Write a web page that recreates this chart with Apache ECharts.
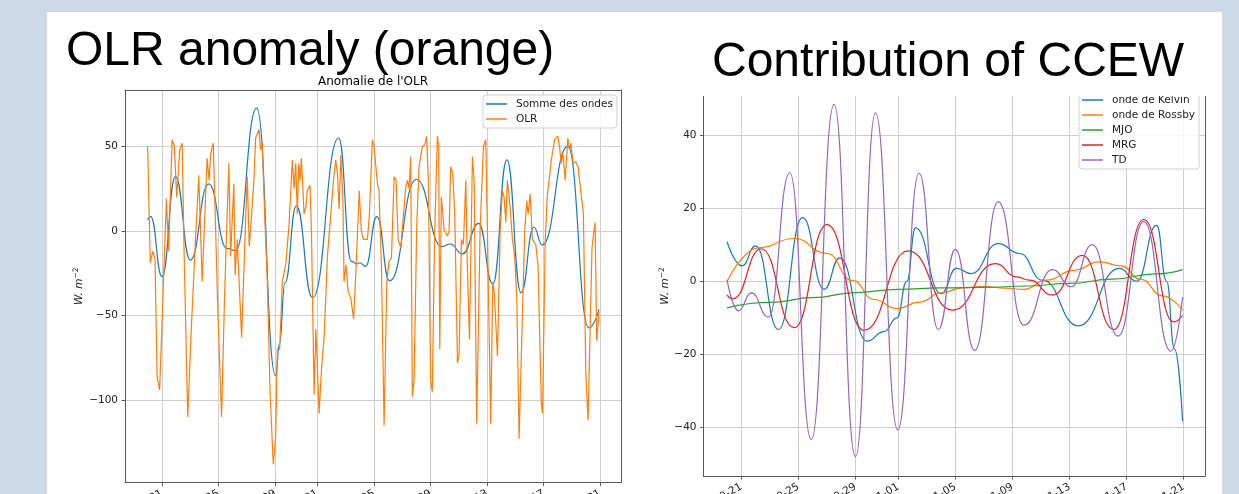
<!DOCTYPE html>
<html><head><meta charset="utf-8">
<script src="https://cdn.jsdelivr.net/npm/echarts@6/dist/echarts.min.js"></script>
<style>html,body{margin:0;padding:0;background:#cdd9e6}#c{width:1239px;height:494px}</style>
</head><body><div id="c"></div>
<script>
// ---------- data (x = day count: Oct 1 = 1, Nov 1 = 32) ----------
const tickDays = [21, 25, 29, 32, 36, 40, 44, 48, 52];
const tickLabels = ['2018-10-21','2018-10-25','2018-10-29','2018-11-01','2018-11-05','2018-11-09','2018-11-13','2018-11-17','2018-11-21'];
const olrTicks = [-100, -50, 0, 50];
const ccewTicks = [-40, -20, 0, 20, 40];

const somme = [[19.98,6.5],[20.2,8.5],[21.0,-27],[21.95,32.2],[23.0,-17.2],[24.3,27.9],[25.6,-10.3],[26.2,-11.7],[27.7,72.7],[29.04,-85.7],[29.3,-67],[29.7,-30.5],[30.5,14.8],[31.64,-39.5],[33.5,55],[34.4,-18],[34.8,-19.5],[35.0,-18.8],[35.4,-21],[36.2,8.5],[37.1,-29.6],[39.0,30.6],[40.8,-9.3],[41.4,-7.7],[42.25,-13.6],[43.4,4.5],[44.4,-31.5],[45.4,42.1],[46.4,-36.5],[47.3,2.2],[47.9,-8.3],[49.7,50],[51.2,-57.3],[51.92,-46.4]];

const olr = [[19.98,50],[20.17,-19],[20.34,-12],[20.5,-16],[20.65,-86],[20.83,-94],[21.31,19],[21.47,-12],[21.71,54],[21.87,50],[22.04,20],[22.25,48],[22.42,52],[22.58,-20],[22.82,-110],[23.06,-60],[23.35,-8],[23.6,33],[23.84,-30],[24.19,43],[24.33,30],[24.43,45],[24.62,52],[24.78,5],[24.92,-40],[25.21,-110],[25.42,-40],[25.61,10],[25.73,40],[25.85,-15],[26.08,28],[26.17,-26],[26.32,-5],[26.63,-63],[26.74,-63],[26.93,10],[27.03,32],[27.17,-9],[27.3,5],[27.5,30],[27.62,55],[27.86,60],[27.97,48],[28.09,52],[28.26,10],[28.45,-30],[28.64,-95],[28.87,-138],[29.04,-122],[29.16,-70],[29.32,-70],[29.51,-30],[29.75,-20],[29.98,3],[30.22,42],[30.34,25],[30.46,40],[30.57,10],[30.67,40],[30.77,30],[30.86,43],[31.05,10],[31.19,15],[31.28,24],[31.47,27],[31.57,0],[31.76,-97],[31.88,-58],[31.99,-80],[32.11,-108],[32.28,-82],[32.47,-62],[32.7,-15],[32.94,10],[33.13,30],[33.29,42],[33.41,34],[33.53,13],[33.65,45],[33.79,20],[33.88,-30],[34.02,-20],[34.17,-36],[34.36,-40],[34.55,-52],[34.71,-25],[34.95,24],[35.1,0],[35.25,-5],[35.53,-5],[35.67,10],[35.88,54],[36.0,50],[36.24,28],[36.35,24],[36.52,-20],[36.71,-115],[36.9,-30],[37.06,-18],[37.23,-16],[37.42,32],[37.56,30],[37.7,-5],[37.89,-10],[38.24,26],[38.36,30],[38.48,25],[38.59,44],[38.71,-98],[38.83,-88],[39.02,3],[39.18,38],[39.42,50],[39.58,51],[39.72,56],[39.84,30],[40.0,-88],[40.12,-95],[40.29,0],[40.48,56],[40.57,50],[40.65,-70],[40.76,20],[40.95,1],[41.19,-3],[41.31,0],[41.42,38],[41.57,34],[41.71,10],[41.9,-78],[42.01,-74],[42.18,-5],[42.32,-8],[42.49,30],[42.6,-21],[42.75,-64],[42.96,44],[43.08,30],[43.26,-114],[43.5,0],[43.74,50],[43.9,54],[44.02,0],[44.25,-114],[44.4,-30],[44.5,-36],[44.73,-74],[44.92,0],[45.08,24],[45.2,20],[45.32,5],[45.43,30],[45.62,15],[45.79,-5],[45.95,-15],[46.1,-40],[46.26,-123],[46.5,-48],[46.66,0],[46.8,18],[46.9,10],[47.04,22],[47.2,-5],[47.44,-8],[47.6,-20],[47.83,-102],[47.92,-108],[48.11,-5],[48.25,20],[48.54,42],[48.77,54],[49.0,56],[49.12,50],[49.24,40],[49.36,46],[49.52,30],[49.71,55],[49.83,48],[49.92,52],[50.08,40],[50.27,41],[50.43,38],[50.62,24],[50.81,10],[50.98,-84],[51.14,-112],[51.28,-60],[51.42,-10],[51.57,1],[51.64,5],[51.75,-65],[51.92,-48]];

const kelvin = [[20.0,10.8],[21.05,4.2],[22.0,9.7],[23.6,-13.2],[25.3,17.4],[26.8,-2.2],[27.9,6.4],[29.8,-16.4],[31.0,-13.8],[31.9,-10],[32.6,0],[33.2,14.6],[35.0,-3.4],[36.07,3.5],[37.1,2.1],[39.0,10.3],[40.5,7.6],[42.1,0.3],[44.6,-12.2],[47.5,3.5],[48.7,0],[50.1,15.3],[50.8,0],[51.35,-18.5],[51.92,-38.3]];
const rossby = [[20.0,0],[22.3,9.2],[24.7,11.7],[27.0,7.6],[28.8,0.2],[30.3,-5],[31.9,-7.5],[33.5,-5.7],[35.0,-3.2],[36.5,-1.8],[38.0,-1.4],[39.5,-1.9],[40.8,-2.2],[42.4,0.3],[44.3,3],[46.1,5.3],[47.6,4.2],[49.0,0.5],[50.5,-4],[51.92,-8]];
const mjo = [[20.0,-7.3],[23.0,-5.8],[26.0,-4.5],[29.0,-3.1],[32.0,-2.2],[35.0,-1.8],[38.0,-1.7],[41.0,-1.3],[44.0,-0.6],[47.0,0.6],[50.0,2.0],[51.92,3.2]];
const mrg = [[20.0,-3.8],[20.4,-4.8],[22.4,8.9],[24.7,-12.7],[27.0,15.5],[29.6,-13.4],[32.7,8.3],[35.8,-7.9],[38.8,4.8],[40.3,1.2],[41.2,0.3],[42.8,-3.8],[44.9,7.1],[47.1,-13.2],[49.2,16.9],[51.3,-11.1],[51.92,-9.3]];
const td = [[20.0,0.3],[20.8,-8.1],[21.7,-3.2],[22.9,-9.8],[24.4,29.7],[25.9,-43.3],[27.5,48.4],[29.0,-48.0],[30.4,46.1],[31.96,-40.7],[33.45,29.5],[34.8,-13.2],[36.0,8.7],[37.35,-18.9],[39.0,21.7],[40.8,-12.0],[42.8,3.2],[44.1,-1.5],[45.6,10.0],[47.4,-15.0],[49.2,16.3],[51.1,-19.1],[51.92,-4.3]];

// ---------- styling ----------
const FONT = 'DejaVu Sans';
const SPINE = '#5a5a5a';
const GRIDC = '#cfcfcf';
const TXT = '#222';
const minusFmt = v => (v < 0 ? '\u2212' + (-v) : '' + v);
const dateFmt = v => { const i = tickDays.indexOf(Math.round(v)); return i >= 0 ? tickLabels[i] : ''; };

function xMain(gi, min, max) {
  return {
    type: 'value', gridIndex: gi, min, max, position: 'bottom',
    axisLine: {show: true, onZero: false, lineStyle: {color: SPINE, width: 1}},
    axisTick: {show: true, length: 3.5, customValues: tickDays, lineStyle: {color: SPINE}},
    axisLabel: {show: true, customValues: tickDays, rotate: 30, margin: 10, fontFamily: FONT, fontSize: 10.5, color: TXT, formatter: dateFmt},
    splitLine: {show: true, lineStyle: {color: GRIDC, width: 1}}
  };
}
function yMain(gi, min, max, ticks, gap) {
  return {
    type: 'value', gridIndex: gi, min, max, position: 'left',
    axisLine: {show: true, onZero: false, lineStyle: {color: SPINE, width: 1}},
    axisTick: {show: true, length: 3.5, customValues: ticks, lineStyle: {color: SPINE}},
    axisLabel: {show: true, customValues: ticks, margin: 7, fontFamily: FONT, fontSize: 10.5, color: TXT, formatter: minusFmt},
    splitLine: {show: true, lineStyle: {color: GRIDC, width: 1}},
    name: '{a|W. m}{b|\u22122}', nameLocation: 'middle', nameRotate: 90, nameGap: gap,
    nameTextStyle: {rich: {
      a: {fontFamily: FONT, fontStyle: 'italic', fontSize: 10.5, color: TXT, lineHeight: 14},
      b: {fontFamily: FONT, fontSize: 7.5, color: TXT, verticalAlign: 'top', lineHeight: 14}
    }}
  };
}
function spineAxis(gi, pos) {
  return {
    type: 'value', gridIndex: gi, position: pos, min: 0, max: 1,
    axisLine: {show: true, onZero: false, lineStyle: {color: SPINE, width: 1}},
    axisTick: {show: false}, axisLabel: {show: false}, splitLine: {show: false}
  };
}
function line(name, data, color, xi, yi, smooth) {
  return {
    name, type: 'line', data, xAxisIndex: xi, yAxisIndex: yi,
    symbol: 'none', showSymbol: false, smooth: smooth ? 0.5 : false, smoothMonotone: smooth ? 'x' : undefined,
    lineStyle: {color, width: 1.2}, itemStyle: {color}, animation: false
  };
}
function legendCfg(names, left, top) {
  return {
    data: names, orient: 'vertical', left, top, icon: 'rect',
    backgroundColor: 'rgba(255,255,255,0.85)', borderColor: '#d0d0d0', borderWidth: 1, borderRadius: 3,
    padding: [3.5, 4, 3.5, 3], itemWidth: 21, itemHeight: 1.5, itemGap: 4,
    textStyle: {fontFamily: FONT, fontSize: 10.5, lineHeight: 11, color: TXT, padding: [0, 0, 0, 4]}
  };
}

const option = {
  backgroundColor: '#cdd9e6',
  animation: false,
  graphic: [
    {type: 'rect', z: -10, shape: {x: 47, y: 12, width: 1175, height: 482}, style: {fill: '#ffffff'}},
    {type: 'text', z: 10, x: 66, y: 52, style: {text: 'OLR anomaly (orange)', font: '48px "Liberation Sans"', fill: '#000', textAlign: 'left', textVerticalAlign: 'middle'}},
    {type: 'text', z: 10, x: 712, y: 63, style: {text: 'Contribution of CCEW', font: '48px "Liberation Sans"', fill: '#000', textAlign: 'left', textVerticalAlign: 'middle'}},
    {type: 'text', z: 10, x: 373, y: 82, style: {text: "Anomalie de l'OLR", font: '12px "DejaVu Sans"', fill: '#000', textAlign: 'center', textVerticalAlign: 'middle'}},
    {type: 'rect', z: 100, shape: {x: 630, y: 80, width: 590, height: 16}, style: {fill: '#ffffff'}}
  ],
  grid: [
    {left: 125, top: 90, width: 496, height: 392.5, outerBoundsMode: 'none'},
    {left: 703.5, top: 96, width: 501.5, height: 380, outerBoundsMode: 'none'}
  ],
  xAxis: [
    xMain(0, 18.38, 53.47),
    spineAxis(0, 'top'),
    xMain(1, 18.35, 53.49)
  ],
  yAxis: [
    yMain(0, -148.8, 83.4, olrTicks, 39),
    spineAxis(0, 'right'),
    yMain(1, -53.3, 50.7, ccewTicks, 27),
    spineAxis(1, 'right')
  ],
  legend: [
    legendCfg(['Somme des ondes', 'OLR'], 483, 95),
    legendCfg(['onde de Kelvin', 'onde de Rossby', 'MJO', 'MRG', 'TD'], 1079, 91)
  ],
  series: [
    line('Somme des ondes', somme, '#1f77b4', 0, 0, true),
    line('OLR', olr, '#ff7f0e', 0, 0, false),
    line('onde de Kelvin', kelvin, '#1f77b4', 2, 2, true),
    line('onde de Rossby', rossby, '#ff7f0e', 2, 2, true),
    line('MJO', mjo, '#2ca02c', 2, 2, true),
    line('MRG', mrg, '#d62728', 2, 2, true),
    line('TD', td, '#9467bd', 2, 2, true)
  ]
};
const chart = echarts.init(document.getElementById('c'), null, {renderer: 'canvas', width: 1239, height: 494});
chart.setOption(option);
</script>
</body></html>
